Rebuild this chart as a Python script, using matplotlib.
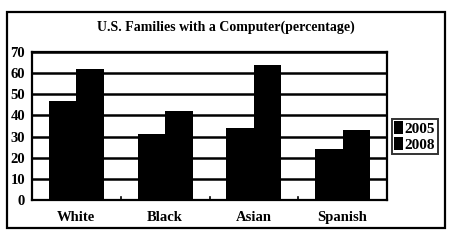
import numpy as np
import matplotlib
matplotlib.use('Agg')
import matplotlib.pyplot as plt
from matplotlib.patches import Rectangle

# data
groups = ['White', 'Black', 'Asian', 'Spanish']
years = ['2005', '2008']
v2005 = [47, 31, 34, 24]
v2008 = [62, 42, 64, 33]
yticks = [0, 10, 20, 30, 40, 50, 60, 70]

plt.rcParams['font.family'] = ['Liberation Serif', 'DejaVu Serif']
plt.rcParams['font.weight'] = 'bold'

W, H = 458, 241
fig = plt.figure(figsize=(W/100, H/100), dpi=100)
ax = fig.add_axes([32/W, 1-200/H, 355/W, 148/H])

x = np.arange(len(groups))
bw = 0.31
ax.bar(x - bw/2, v2005, bw, color='black', label=years[0], zorder=3)
ax.bar(x + bw/2, v2008, bw, color='black', label=years[1], zorder=3)

ax.set_xlim(-0.5, len(groups) - 0.5)
ax.set_ylim(0, 70)
ax.set_yticks(yticks)
ax.set_yticklabels([str(t) for t in yticks], fontsize=10.5, fontweight='bold')
ax.set_xticks(x)
ax.set_xticklabels(groups, fontsize=10.5, fontweight='bold')
ax.tick_params(axis='x', length=0, pad=8)
ax.tick_params(axis='y', length=0, pad=5)
ax.yaxis.grid(True, color='black', linewidth=1.8, zorder=0)
for s in ax.spines.values():
    s.set_linewidth(1.6)

# small marks between groups on the base line
for b in x[:-1] + 0.5:
    ax.plot([b, b], [0, 1.2], color='black', linewidth=1.2, clip_on=False, zorder=4)

ax.set_title('U.S. Families with a Computer(percentage)', fontsize=10, fontweight='bold',
             pad=15, x=0.545)

leg = ax.legend(loc='center left', bbox_to_anchor=(1.005, 0.43), frameon=True,
                fancybox=False, edgecolor='black', fontsize=11,
                handlelength=0.6, handleheight=0.9, handletextpad=0.1,
                borderpad=0.15, labelspacing=0.1, borderaxespad=0.2)
leg.get_frame().set_linewidth(1.4)

# outer border around the whole chart
fig.patches.append(Rectangle((7/W, 1-228/H), 438/W, 216/H, transform=fig.transFigure,
                             fill=False, edgecolor='black', linewidth=1.6))

fig.savefig('out.png', dpi=100)
